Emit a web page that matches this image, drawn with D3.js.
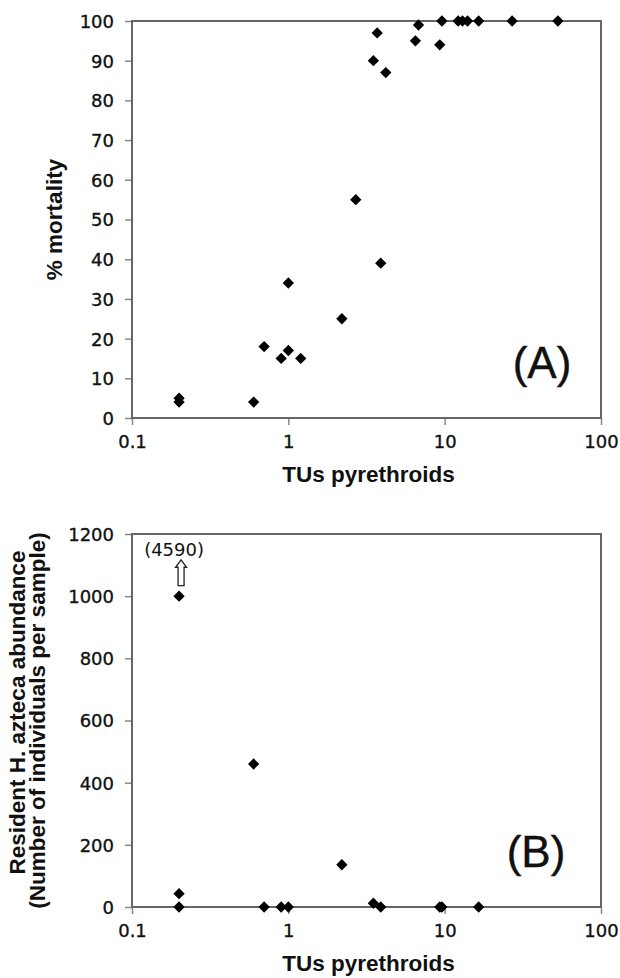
<!DOCTYPE html>
<html>
<head>
<meta charset="utf-8">
<script src="https://cdn.jsdelivr.net/npm/d3@7"></script>
<style>
  body { margin: 0; background: #fff; }
  svg { display: block; }
  .tick text { font-family: "DejaVu Sans", Verdana, sans-serif; font-size: 18px; fill: #111; stroke: #111; stroke-width: 0.35px; }
  .title { font-family: "Liberation Sans", Arial, sans-serif; font-weight: bold; font-size: 22.5px; fill: #111; }
</style>
</head>
<body>
<div id="chart"></div>
<script>
// Panel A: % mortality vs TUs pyrethroids
const tuA   = [0.2, 0.2, 0.6, 0.7, 0.9, 1.0, 1.2, 1.0, 2.2, 2.7, 3.9, 3.5, 3.7, 4.2, 6.5, 6.8, 9.3, 9.6, 12.2, 13, 14, 16.5, 27, 53];
const mortA = [5, 4, 4, 18, 15, 17, 15, 34, 25, 55, 39, 90, 97, 87, 95, 99, 94, 100, 100, 100, 100, 100, 100, 100];

// Panel B: resident H. azteca abundance (the 4590 point is drawn clipped at 1000)
const tuB    = [0.2, 0.2, 0.2, 0.6, 0.7, 0.9, 1.0, 2.2, 3.5, 3.9, 9.3, 9.6, 16.5];
const abundB = [1000, 43, 0, 460, 0, 0, 0, 136, 12, 0, 0, 0, 0];

const xTicks  = [0.1, 1, 10, 100];
const yTicksA = [0, 10, 20, 30, 40, 50, 60, 70, 80, 90, 100];
const yTicksB = [0, 200, 400, 600, 800, 1000, 1200];

const width = 620, height = 978;
const svg = d3.select("#chart").append("svg")
  .attr("width", width)
  .attr("height", height);

const x = d3.scaleLog().domain([0.1, 100]).range([132, 601]);
const yA = d3.scaleLinear().domain([0, 100]).range([418, 21]);
const yB = d3.scaleLinear().domain([0, 1200]).range([907, 534]);

const diamond = d3.symbol().type(d3.symbolSquare).size(64);

function panel(y, yTicks, xs, ys, label, labelX) {
  const [bottom, top] = y.range();

  // axes
  const gy = svg.append("g")
    .attr("transform", `translate(${x.range()[0]},0)`)
    .call(d3.axisLeft(y).tickValues(yTicks).tickFormat(d3.format("d")).tickSize(7).tickPadding(11));
  const gx = svg.append("g")
    .attr("transform", `translate(0,${bottom})`)
    .call(d3.axisBottom(x).tickValues(xTicks).tickFormat(d => d).tickSize(7).tickPadding(10));
  [gy, gx].forEach(g => {
    g.select(".domain").remove();
    g.selectAll(".tick line").attr("stroke", "#888").attr("stroke-width", 1.5);
  });
  gy.selectAll(".tick text").attr("dy", "0.36em");

  // frame
  svg.append("rect")
    .attr("x", x.range()[0]).attr("y", top)
    .attr("width", x.range()[1] - x.range()[0])
    .attr("height", bottom - top)
    .attr("fill", "none")
    .attr("stroke", "#666")
    .attr("stroke-width", 2);

  // points
  svg.append("g").selectAll("path")
    .data(xs.map((d, i) => [d, ys[i]]))
    .join("path")
    .attr("d", diamond)
    .attr("transform", d => `translate(${x(d[0])},${y(d[1])}) rotate(45)`)
    .attr("fill", "#000");

  // x title
  svg.append("text")
    .attr("class", "title")
    .attr("x", (x.range()[0] + x.range()[1]) / 2 + 2)
    .attr("y", bottom + 64)
    .attr("text-anchor", "middle")
    .text("TUs pyrethroids");

  // panel letter
  svg.append("text")
    .attr("x", labelX)
    .attr("y", bottom - 40)
    .attr("text-anchor", "middle")
    .style("font-family", "'Liberation Sans', Arial, sans-serif")
    .style("font-size", "44px")
    .attr("fill", "#111")
    .attr("stroke", "#111")
    .attr("stroke-width", 0.4)
    .text(label);
}

panel(yA, yTicksA, tuA, mortA, "(A)", 542);
panel(yB, yTicksB, tuB, abundB, "(B)", 536);

// y titles
svg.append("text")
  .attr("class", "title")
  .attr("transform", `translate(62,${(418 + 21) / 2}) rotate(-90)`)
  .attr("text-anchor", "middle")
  .text("% mortality");

const cyB = (907 + 534) / 2;
svg.append("text")
  .attr("class", "title")
  .attr("transform", `translate(25,${cyB - 8}) rotate(-90)`)
  .attr("text-anchor", "middle")
  .text("Resident  H. azteca abundance");
svg.append("text")
  .attr("class", "title")
  .attr("transform", `translate(45,${cyB}) rotate(-90)`)
  .attr("text-anchor", "middle")
  .text("(Number of individuals per sample)");

// off-scale annotation for the 4590 point
const ax = x(0.2) + 2;
const arrow = d3.path();
arrow.moveTo(ax - 3, yB(1034));
arrow.lineTo(ax - 3, yB(1093));
arrow.lineTo(ax - 5.5, yB(1093));
arrow.lineTo(ax, yB(1117));
arrow.lineTo(ax + 5.5, yB(1093));
arrow.lineTo(ax + 3, yB(1093));
arrow.lineTo(ax + 3, yB(1034));
arrow.closePath();
svg.append("path")
  .attr("d", arrow.toString())
  .attr("fill", "#fff")
  .attr("stroke", "#222")
  .attr("stroke-width", 1.3);

svg.append("text")
  .attr("x", ax - 7)
  .attr("y", yB(1117) - 4)
  .attr("text-anchor", "middle")
  .style("font-family", "'DejaVu Sans', Verdana, sans-serif")
  .style("font-size", "18px")
  .attr("fill", "#111")
  .text("(4590)");
</script>
</body>
</html>
